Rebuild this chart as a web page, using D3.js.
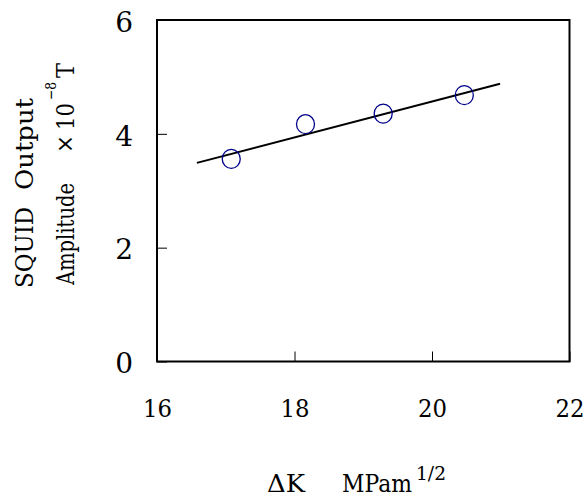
<!DOCTYPE html>
<html><head><meta charset="utf-8">
<script src="https://cdn.jsdelivr.net/npm/d3@7"></script>
<style>html,body{margin:0;padding:0;background:#fff;}svg{display:block;}
svg text{font-family:"DejaVu Serif","Liberation Serif",serif;}</style>
</head><body>
<svg id="chart" width="587" height="497"></svg>
<script>
// Data
const deltaK = [17.08, 18.16, 19.29, 20.47];
const amplitude = [3.56, 4.17, 4.355, 4.68];
const fitX = [16.58, 20.99];
const fitY = [3.49, 4.88];
const xTicks = [16, 18, 20, 22];
const yTicks = [0, 2, 4, 6];

const W = 587, H = 497;
const m = {left: 157, top: 20, right: 17.5, bottom: 135.5};
const svg = d3.select("#chart");
svg.append("rect").attr("width", W).attr("height", H).attr("fill", "#fff");

const x = d3.scaleLinear().domain([16, 22]).range([m.left, W - m.right]);
const y = d3.scaleLinear().domain([0, 6]).range([H - m.bottom, m.top]);

// axes with inward ticks
const gx = svg.append("g").attr("transform", `translate(0,${H - m.bottom})`)
  .call(d3.axisBottom(x).tickValues(xTicks).tickSize(-10).tickPadding(38).tickFormat(d3.format("d")));
const gy = svg.append("g").attr("transform", `translate(${m.left},0)`)
  .call(d3.axisLeft(y).tickValues(yTicks).tickSize(-10).tickPadding(24).tickFormat(d3.format("d")));
[gx, gy].forEach(g => {
  g.attr("font-family", null).attr("font-size", null);
  g.select(".domain").remove();
  g.selectAll(".tick line").attr("stroke", "#000").attr("stroke-width", 1);
  g.selectAll(".tick text").attr("fill", "#000");
});
gx.selectAll(".tick text").style("font-size", "25px").attr("textLength", 29).attr("lengthAdjust", "spacingAndGlyphs");
gy.selectAll(".tick text").style("font-size", "28px").attr("dy", "0.4em");

// frame
svg.append("rect")
  .attr("x", x(16)).attr("y", y(6))
  .attr("width", x(22) - x(16)).attr("height", y(0) - y(6))
  .attr("fill", "none").attr("stroke", "#000").attr("stroke-width", 2);

// fit line
svg.append("line")
  .attr("x1", x(fitX[0])).attr("y1", y(fitY[0]))
  .attr("x2", x(fitX[1])).attr("y2", y(fitY[1]))
  .attr("stroke", "#000").attr("stroke-width", 2);

// points
svg.selectAll("ellipse.pt").data(deltaK).enter().append("ellipse")
  .attr("class", "pt")
  .attr("cx", (d) => x(d)).attr("cy", (d, i) => y(amplitude[i]))
  .attr("rx", 9).attr("ry", 9.5)
  .attr("fill", "none").attr("stroke", "#00008b").attr("stroke-width", 1.3);

function txt(g, s, xx, yy, len, size) {
  return g.append("text").attr("x", xx).attr("y", yy).attr("textLength", len)
    .attr("lengthAdjust", "spacingAndGlyphs").style("font-size", size + "px")
    .attr("fill", "#000").text(s);
}

// x title
const xt = svg.append("g");
txt(xt, "ΔK", 267, 492, 38, 25);
txt(xt, "MPam", 342, 492, 70, 24);
txt(xt, "1/2", 416, 480, 30, 19);

// y title line 1
const y1 = svg.append("g").attr("transform", "translate(33,288) rotate(-90)");
txt(y1, "SQUID", 0, 0, 81, 25);
txt(y1, "Output", 98, 0, 92, 25);

// y title line 2
const y2 = svg.append("g").attr("transform", "translate(74,285) rotate(-90)");
txt(y2, "Amplitude", 0, 0, 102, 25);
txt(y2, "×", 132, -1, 18, 25);
txt(y2, "10", 155, 0, 27, 25);
txt(y2, "−8", 185, -18, 18, 15);
txt(y2, "T", 207, 0, 15, 25);
</script>
</body></html>
